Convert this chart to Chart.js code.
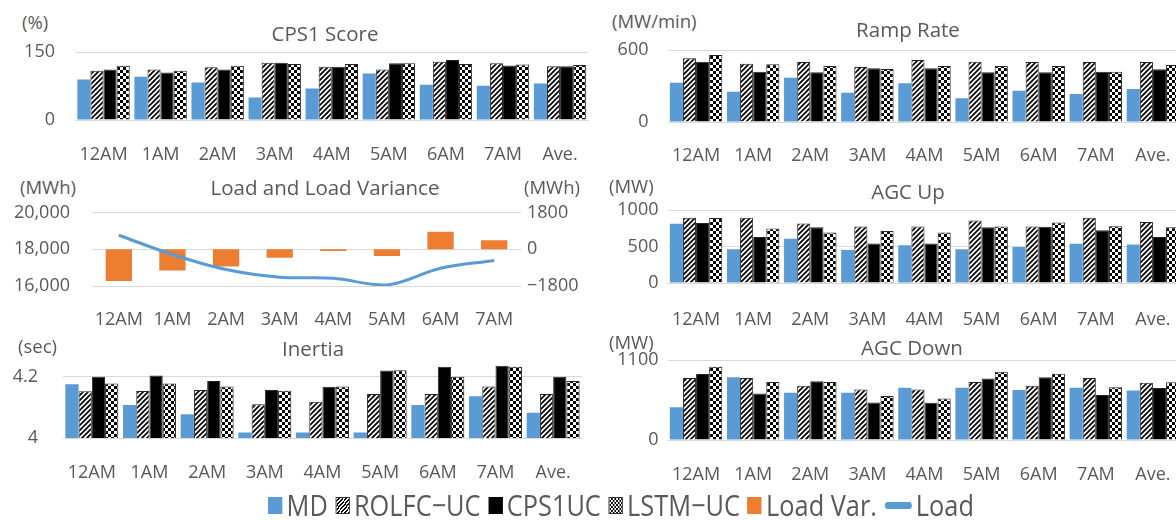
<!DOCTYPE html>
<html>
<head>
<meta charset="utf-8">
<script src="https://cdn.jsdelivr.net/npm/chart.js@4.4.1/dist/chart.umd.min.js"></script>
<style>
  html, body { margin: 0; padding: 0; background: #fff; overflow: hidden; }
  #wrap { position: relative; width: 1176px; height: 520px; overflow: hidden; font-family: "Open Sans", sans-serif; color: #595959; }
  canvas { position: absolute; }
  .lbl { position: absolute; white-space: nowrap; color: #595959; font-family: "Open Sans", sans-serif; line-height: 1; }
  #legend { position: absolute; left: 268px; top: 505px; display: flex; align-items: center; font-size: 30px; line-height: 1; color: #595959; transform-origin: left center; white-space: nowrap; }
  #legend .sw { display: inline-block; width: 17px; height: 17px; margin-right: 5px; box-sizing: border-box; }
  #legend .it { display: flex; align-items: center; margin-right: 9px; }
</style>
</head>
<body>
<div id="wrap">
  <canvas id="cCps"></canvas>
  <canvas id="cRamp"></canvas>
  <canvas id="cLoad"></canvas>
  <canvas id="cUp"></canvas>
  <canvas id="cInertia"></canvas>
  <canvas id="cDown"></canvas>
  <div id="legend"></div>
</div>
<script>
// ---- categories ----
const hours = ['12AM', '1AM', '2AM', '3AM', '4AM', '5AM', '6AM', '7AM', 'Ave.'];
const loadHours = ['12AM', '1AM', '2AM', '3AM', '4AM', '5AM', '6AM', '7AM'];
const seriesNames = ['MD', 'ROLFC\u2212UC', 'CPS1UC', 'LSTM\u2212UC'];

// ---- CPS1 score (%) ----
const cpsMD    = [90, 96, 83, 50, 70, 103, 78, 76, 81];
const cpsROLFC = [109, 112, 117, 127, 118, 112, 129, 126, 119];
const cpsCPS1  = [112, 105, 112, 127, 118, 126, 133, 121, 119];
const cpsLSTM  = [120, 109, 120, 124, 124, 126, 124, 123, 122];

// ---- ramp rate (MW/min) ----
const rampMD    = [328, 253, 369, 244, 322, 197, 261, 233, 275];
const rampROLFC = [531, 486, 500, 458, 517, 503, 500, 500, 500];
const rampCPS1  = [503, 419, 414, 447, 447, 414, 414, 419, 439];
const rampLSTM  = [558, 481, 467, 442, 467, 467, 467, 419, 475];

// ---- load (MWh) and load variance (MWh) ----
const loadMWh = [18770, 17720, 16900, 16480, 16420, 16060, 16970, 17390];
const loadVar = [-1560, -1040, -840, -410, -80, -330, 860, 450];

// ---- AGC up (MW) ----
const upMD    = [810, 463, 607, 451, 518, 463, 492, 537, 529];
const upROLFC = [895, 895, 814, 773, 773, 855, 773, 895, 836];
const upCPS1  = [821, 629, 762, 540, 540, 762, 770, 722, 629];
const upLSTM  = [892, 747, 692, 714, 692, 773, 829, 777, 762];

// ---- inertia (sec) ----
const inMD    = [4.176, 4.108, 4.078, 4.018, 4.018, 4.018, 4.108, 4.137, 4.083];
const inROLFC = [4.153, 4.154, 4.157, 4.111, 4.119, 4.144, 4.144, 4.169, 4.144];
const inCPS1  = [4.201, 4.205, 4.187, 4.157, 4.168, 4.221, 4.234, 4.237, 4.201];
const inLSTM  = [4.179, 4.179, 4.169, 4.155, 4.169, 4.222, 4.201, 4.234, 4.187];

// ---- AGC down (MW) ----
const downMD    = [449, 862, 651, 651, 718, 718, 687, 718, 682];
const downROLFC = [853, 853, 745, 696, 696, 799, 745, 853, 786];
const downCPS1  = [907, 638, 808, 516, 512, 844, 862, 620, 714];
const downLSTM  = [1006, 799, 799, 606, 570, 938, 911, 727, 795];

// ---- tick values per panel ----
const cpsTicks = [0, 150];
const rampTicks = [0, 600];
const upTicks = [0, 500, 1000];
const inTicks = [4, 4.2];
const downTicks = [0, 1100];
const loadTicks = [16000, 18000, 20000];
const varTicks = [-1800, 0, 1800];

// ---- colours and fills ----
const BLUE = '#5B9BD5';
const ORANGE = '#ED7D31';
const TEXT = '#595959';
const GRID = '#D9D9D9';
const FONT = '"Open Sans", sans-serif';
const TICK = 18;

function hatchFill() {
  const c = document.createElement('canvas');
  c.width = 5; c.height = 5;
  const g = c.getContext('2d');
  g.fillStyle = '#fff'; g.fillRect(0, 0, 5, 5);
  g.strokeStyle = '#000'; g.lineWidth = 1.8;
  g.beginPath();
  g.moveTo(-1, 6); g.lineTo(6, -1);
  g.moveTo(-3.5, 3.5); g.lineTo(1.5, -1.5);
  g.moveTo(3.5, 6.5); g.lineTo(6.5, 3.5);
  g.stroke();
  return g.createPattern(c, 'repeat');
}
function checkerFill() {
  const c = document.createElement('canvas');
  c.width = 6; c.height = 6;
  const g = c.getContext('2d');
  g.fillStyle = '#fff'; g.fillRect(0, 0, 6, 6);
  g.fillStyle = '#000'; g.fillRect(0, 0, 3, 3); g.fillRect(3, 3, 3, 3);
  return g.createPattern(c, 'repeat');
}
const fills = [BLUE, hatchFill(), '#000', checkerFill()];

function placeCanvas(id, box) {
  const cv = document.getElementById(id);
  cv.width = box.w; cv.height = box.h;
  cv.style.left = box.x + 'px'; cv.style.top = box.y + 'px';
  cv.style.width = box.w + 'px'; cv.style.height = box.h + 'px';
  return cv;
}

function fixedTicks(vals) {
  return s => { s.ticks = vals.map(v => ({ value: v })); };
}
// pin an axis to a given thickness and drop the label overhang padding
function pinWidth(w) {
  return s => { s.width = w; s.paddingTop = 0; s.paddingBottom = 0; s.paddingLeft = 0; s.paddingRight = 0; };
}
function pinHeight(h) {
  return s => { s.height = h; s.paddingTop = 0; s.paddingBottom = 0; s.paddingLeft = 0; s.paddingRight = 0; };
}

// grouped bar panel with four series
function groupPanel(id, box, plot, yMin, yMax, ticks, tickFmt, xPad, yPad, sets) {
  const cv = placeCanvas(id, box);
  return new Chart(cv, {
    type: 'bar',
    data: {
      labels: hours,
      datasets: sets.map((d, i) => ({
        label: seriesNames[i],
        data: d,
        backgroundColor: fills[i],
        borderColor: i === 0 ? 'rgba(0,0,0,0)' : '#262626',
        borderWidth: i === 0 ? 0 : 1,
        categoryPercentage: 0.918,
        barPercentage: 1
      }))
    },
    options: {
      responsive: false, animation: false, devicePixelRatio: 1,
      layout: { padding: { top: plot.top - box.y, right: box.x + box.w - plot.right, left: 0, bottom: 0 } },
      plugins: { legend: { display: false }, tooltip: { enabled: false } },
      scales: {
        x: {
          grid: { display: false },
          border: { display: true, color: GRID, width: 1 },
          ticks: { color: TEXT, font: { family: FONT, size: TICK }, padding: xPad, maxRotation: 0, autoSkip: false },
          afterFit: pinHeight(box.y + box.h - plot.bottom)
        },
        y: {
          min: yMin, max: yMax,
          grid: { color: GRID, drawTicks: false, lineWidth: 1 },
          border: { display: false },
          ticks: { color: TEXT, font: { family: FONT, size: TICK }, padding: yPad, callback: tickFmt },
          afterBuildTicks: fixedTicks(ticks),
          afterFit: pinWidth(plot.left - box.x)
        }
      }
    }
  });
}

const plain = v => String(v);

// CPS1 score
groupPanel('cCps', { x: 0, y: 40, w: 592, h: 130 }, { left: 75, right: 588.6, top: 52.3, bottom: 120 },
  0, 150, cpsTicks, plain, 16.5, 20, [cpsMD, cpsROLFC, cpsCPS1, cpsLSTM]);

// Ramp rate
groupPanel('cRamp', { x: 590, y: 38, w: 600, h: 132 }, { left: 667.5, right: 1181.5, top: 50, bottom: 122 },
  0, 600, rampTicks, plain, 15.5, 19, [rampMD, rampROLFC, rampCPS1, rampLSTM]);

// AGC up
groupPanel('cUp', { x: 590, y: 198, w: 600, h: 130 }, { left: 667.5, right: 1181.5, top: 210, bottom: 283 },
  0, 1000, upTicks, plain, 18, 9, [upMD, upROLFC, upCPS1, upLSTM]);

// Inertia
groupPanel('cInertia', { x: 0, y: 350, w: 592, h: 135 }, { left: 63, right: 582, top: 361.75, bottom: 438 },
  4, 4.25, inTicks, v => (v === 4 ? '4' : v.toFixed(1)), 16, 25, [inMD, inROLFC, inCPS1, inLSTM]);

// AGC down
groupPanel('cDown', { x: 590, y: 350, w: 600, h: 135 }, { left: 667.5, right: 1181.5, top: 360, bottom: 440 },
  0, 1100, downTicks, plain, 16, 9, [downMD, downROLFC, downCPS1, downLSTM]);

// Load and load variance
(function () {
  const box = { x: 0, y: 200, w: 590, h: 130 };
  const plot = { left: 92, right: 521, top: 212.7, bottom: 286 };
  const cv = placeCanvas('cLoad', box);
  new Chart(cv, {
    data: {
      labels: loadHours,
      datasets: [
        { type: 'line', label: 'Load', data: loadMWh, yAxisID: 'y', borderColor: BLUE, borderWidth: 3,
          pointRadius: 0, tension: 0.35, fill: false, order: 0 },
        { type: 'bar', label: 'Load Var.', data: loadVar, yAxisID: 'y1', backgroundColor: ORANGE,
          categoryPercentage: 0.49, barPercentage: 1, order: 1 }
      ]
    },
    options: {
      responsive: false, animation: false, devicePixelRatio: 1,
      layout: { padding: { top: plot.top - box.y, right: 0, left: 0, bottom: 0 } },
      plugins: { legend: { display: false }, tooltip: { enabled: false } },
      scales: {
        x: {
          grid: { display: false },
          border: { display: false },
          ticks: { color: TEXT, font: { family: FONT, size: TICK }, padding: 15, maxRotation: 0, autoSkip: false },
          afterFit: pinHeight(box.y + box.h - plot.bottom)
        },
        y: {
          position: 'left', min: 16000, max: 20000,
          grid: { color: GRID, drawTicks: false },
          border: { display: false },
          ticks: { color: TEXT, font: { family: FONT, size: TICK }, padding: 22,
                   callback: v => v.toLocaleString('en-US') },
          afterBuildTicks: fixedTicks(loadTicks),
          afterFit: pinWidth(plot.left - box.x)
        },
        y1: {
          position: 'right', min: -1800, max: 1800,
          grid: { display: false, drawTicks: false },
          border: { display: false },
          ticks: { color: TEXT, font: { family: FONT, size: TICK }, padding: 6,
                   callback: v => (v < 0 ? '\u2212' + Math.abs(v) : String(v)) },
          afterBuildTicks: fixedTicks(varTicks),
          afterFit: pinWidth(box.x + box.w - plot.right)
        }
      }
    }
  });
})();

// ---- panel titles and unit labels ----
function label(text, x, y, size, align) {
  const d = document.createElement('div');
  d.className = 'lbl';
  d.textContent = text;
  d.style.fontSize = size + 'px';
  d.style.left = x + 'px';
  d.style.top = y + 'px';
  d.style.transform = align === 'center' ? 'translate(-50%,-50%)' : 'translate(0,-50%)';
  document.getElementById('wrap').appendChild(d);
}
const TITLE = 20.5, UNIT = 18.5;
label('(%)', 22, 22, UNIT);
label('CPS1 Score', 325, 33, TITLE, 'center');
label('(MW/min)', 612, 21, UNIT);
label('Ramp Rate', 908, 29, TITLE, 'center');
label('(MWh)', 20, 187, UNIT);
label('Load and Load Variance', 325, 187, TITLE, 'center');
label('(MWh)', 524, 187, UNIT);
label('(MW)', 609, 186, UNIT);
label('AGC Up', 908, 191, TITLE, 'center');
label('(sec)', 18, 346, UNIT);
label('Inertia', 313, 348, TITLE, 'center');
label('(MW)', 609, 342, UNIT);
label('AGC Down', 912, 347, TITLE, 'center');

// ---- shared legend ----
(function () {
  const lg = document.getElementById('legend');
  const items = [
    { name: seriesNames[0], css: 'background:' + BLUE },
    { name: seriesNames[1], css: 'background:repeating-linear-gradient(-45deg,#000 0 1.5px,#fff 1.5px 3px);border:1px solid #333' },
    { name: seriesNames[2], css: 'background:#000' },
    { name: seriesNames[3], css: 'background-color:#fff;background-image:conic-gradient(#000 25%,#fff 0 50%,#000 0 75%,#fff 0);background-size:4px 4px;border:1px solid #333' },
    { name: 'Load Var.', css: 'background:' + ORANGE },
    { name: 'Load', css: 'background:' + BLUE + ';width:32px;height:7px;border-radius:4px' }
  ];
  items.forEach(it => {
    const s = document.createElement('span'); s.className = 'it';
    const sw = document.createElement('span'); sw.className = 'sw'; sw.style.cssText += it.css;
    const t = document.createElement('span'); t.textContent = it.name;
    s.appendChild(sw); s.appendChild(t); lg.appendChild(s);
  });
  lg.style.transform = 'translateY(-50%) scaleX(0.845)';
})();
</script>
</body>
</html>
